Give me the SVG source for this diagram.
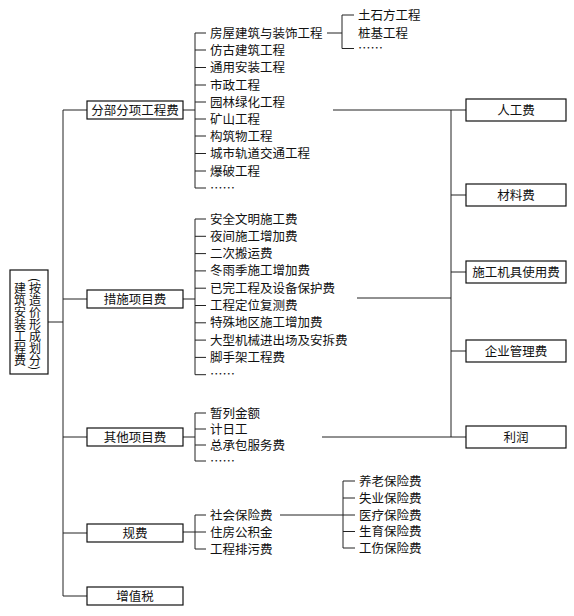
<svg xmlns="http://www.w3.org/2000/svg" width="574" height="616" viewBox="0 0 574 616">
<style>
  text { font-family: "Noto Sans CJK SC", "Noto Sans", sans-serif; font-size: 12.5px; fill: #111; }
  .c { text-anchor: middle; }
  .box { fill: #fff; stroke: #111; stroke-width: 1.2; }
  .ln { fill: none; stroke: #222; stroke-width: 1; }
  .v { writing-mode: vertical-rl; text-anchor: middle; font-size: 12px; }
</style>
<rect width="574" height="616" fill="#fff"/>

<g id="connectors" class="ln">
  <!-- root to trunk -->
  <path d="M48 322H63"/>
  <path d="M63 110V596"/>
  <path d="M63 110H87M63 299H87M63 437H87M63 533H87M63 596H87"/>
  <!-- group A -->
  <path d="M183 110H195M195 33V188"/>
  <path d="M195 33H206M195 50H206M195 67.5H206M195 85H206M195 102H206M195 119H206M195 136H206M195 153.5H206M195 171H206M195 188H206"/>
  <path d="M327 33H342M342 15V48.5M342 15H354M342 48.5H354"/>
  <!-- group B -->
  <path d="M183 299H195M195 219V374.7"/>
  <path d="M195 219H206M195 236.3H206M195 253.6H206M195 270.9H206M195 288.2H206M195 305.5H206M195 322.8H206M195 340.1H206M195 357.4H206M195 374.7H206"/>
  <!-- group C -->
  <path d="M183 437H195M195 413V461"/>
  <path d="M195 413H206M195 429H206M195 445H206M195 461H206"/>
  <!-- group D -->
  <path d="M183 532H195M195 515V549"/>
  <path d="M195 515H206M195 532H206M195 549H206"/>
  <path d="M280 515H355M343 481V548"/>
  <path d="M343 481H355M343 498H355M343 531.5H355M343 548H355"/>
  <!-- right side -->
  <path d="M333 110H466"/>
  <path d="M357 298H451"/>
  <path d="M322 437H466"/>
  <path d="M451 110V437"/>
  <path d="M451 195H466M451 272H466M451 351H466"/>
</g>

<g id="root">
  <rect class="box" x="10" y="270" width="38" height="104"/>
  <text class="v" x="20" y="324">建筑安装工程费</text>
  <text class="v" x="35" y="324">(按造价形成划分)</text>
</g>

<g id="fenbu">
  <rect class="box" x="87" y="101" width="96" height="18"/>
  <text class="c" x="135" y="114.5">分部分项工程费</text>
</g>
<g id="cuoshi">
  <rect class="box" x="87" y="290" width="96" height="18"/>
  <text class="c" x="135" y="303.5">措施项目费</text>
</g>
<g id="qita">
  <rect class="box" x="87" y="428" width="96" height="18"/>
  <text class="c" x="135" y="441.5">其他项目费</text>
</g>
<g id="guifei">
  <rect class="box" x="87" y="524" width="96" height="18"/>
  <text class="c" x="135" y="537.5">规费</text>
</g>
<g id="zengzhishui">
  <rect class="box" x="87" y="587" width="96" height="18"/>
  <text class="c" x="135" y="600.5">增值税</text>
</g>

<g id="fenbu-items">
  <text x="210" y="37.5">房屋建筑与装饰工程</text>
  <text x="210" y="54.5">仿古建筑工程</text>
  <text x="210" y="72">通用安装工程</text>
  <text x="210" y="89.5">市政工程</text>
  <text x="210" y="106.5">园林绿化工程</text>
  <text x="210" y="123.5">矿山工程</text>
  <text x="210" y="140.5">构筑物工程</text>
  <text x="210" y="158">城市轨道交通工程</text>
  <text x="210" y="175.5">爆破工程</text>
  <text x="210" y="192.5">……</text>
</g>
<g id="fangwu-items">
  <text x="358" y="19.5">土石方工程</text>
  <text x="358" y="37.5">桩基工程</text>
  <text x="358" y="53">……</text>
</g>
<g id="cuoshi-items">
  <text x="210" y="223.5">安全文明施工费</text>
  <text x="210" y="240.8">夜间施工增加费</text>
  <text x="210" y="258.1">二次搬运费</text>
  <text x="210" y="275.4">冬雨季施工增加费</text>
  <text x="210" y="292.7">已完工程及设备保护费</text>
  <text x="210" y="310">工程定位复测费</text>
  <text x="210" y="327.3">特殊地区施工增加费</text>
  <text x="210" y="344.6">大型机械进出场及安拆费</text>
  <text x="210" y="361.9">脚手架工程费</text>
  <text x="210" y="379.2">……</text>
</g>
<g id="qita-items">
  <text x="210" y="417.5">暂列金额</text>
  <text x="210" y="433.5">计日工</text>
  <text x="210" y="449.5">总承包服务费</text>
  <text x="210" y="465.5">……</text>
</g>
<g id="guifei-items">
  <text x="210" y="519.5">社会保险费</text>
  <text x="210" y="536.5">住房公积金</text>
  <text x="210" y="553.5">工程排污费</text>
</g>
<g id="shebao-items">
  <text x="359" y="485.5">养老保险费</text>
  <text x="359" y="502.5">失业保险费</text>
  <text x="359" y="519.5">医疗保险费</text>
  <text x="359" y="536">生育保险费</text>
  <text x="359" y="552.5">工伤保险费</text>
</g>

<g id="rengong">
  <rect class="box" x="466" y="99" width="100" height="22"/>
  <text class="c" x="516" y="114.5">人工费</text>
</g>
<g id="cailiao">
  <rect class="box" x="466" y="184" width="100" height="22"/>
  <text class="c" x="516" y="199.5">材料费</text>
</g>
<g id="jiju">
  <rect class="box" x="466" y="261" width="100" height="22"/>
  <text class="c" x="516" y="276.5">施工机具使用费</text>
</g>
<g id="qiye">
  <rect class="box" x="466" y="340" width="100" height="22"/>
  <text class="c" x="516" y="355.5">企业管理费</text>
</g>
<g id="lirun">
  <rect class="box" x="466" y="426" width="100" height="22"/>
  <text class="c" x="516" y="441.5">利润</text>
</g>
</svg>
